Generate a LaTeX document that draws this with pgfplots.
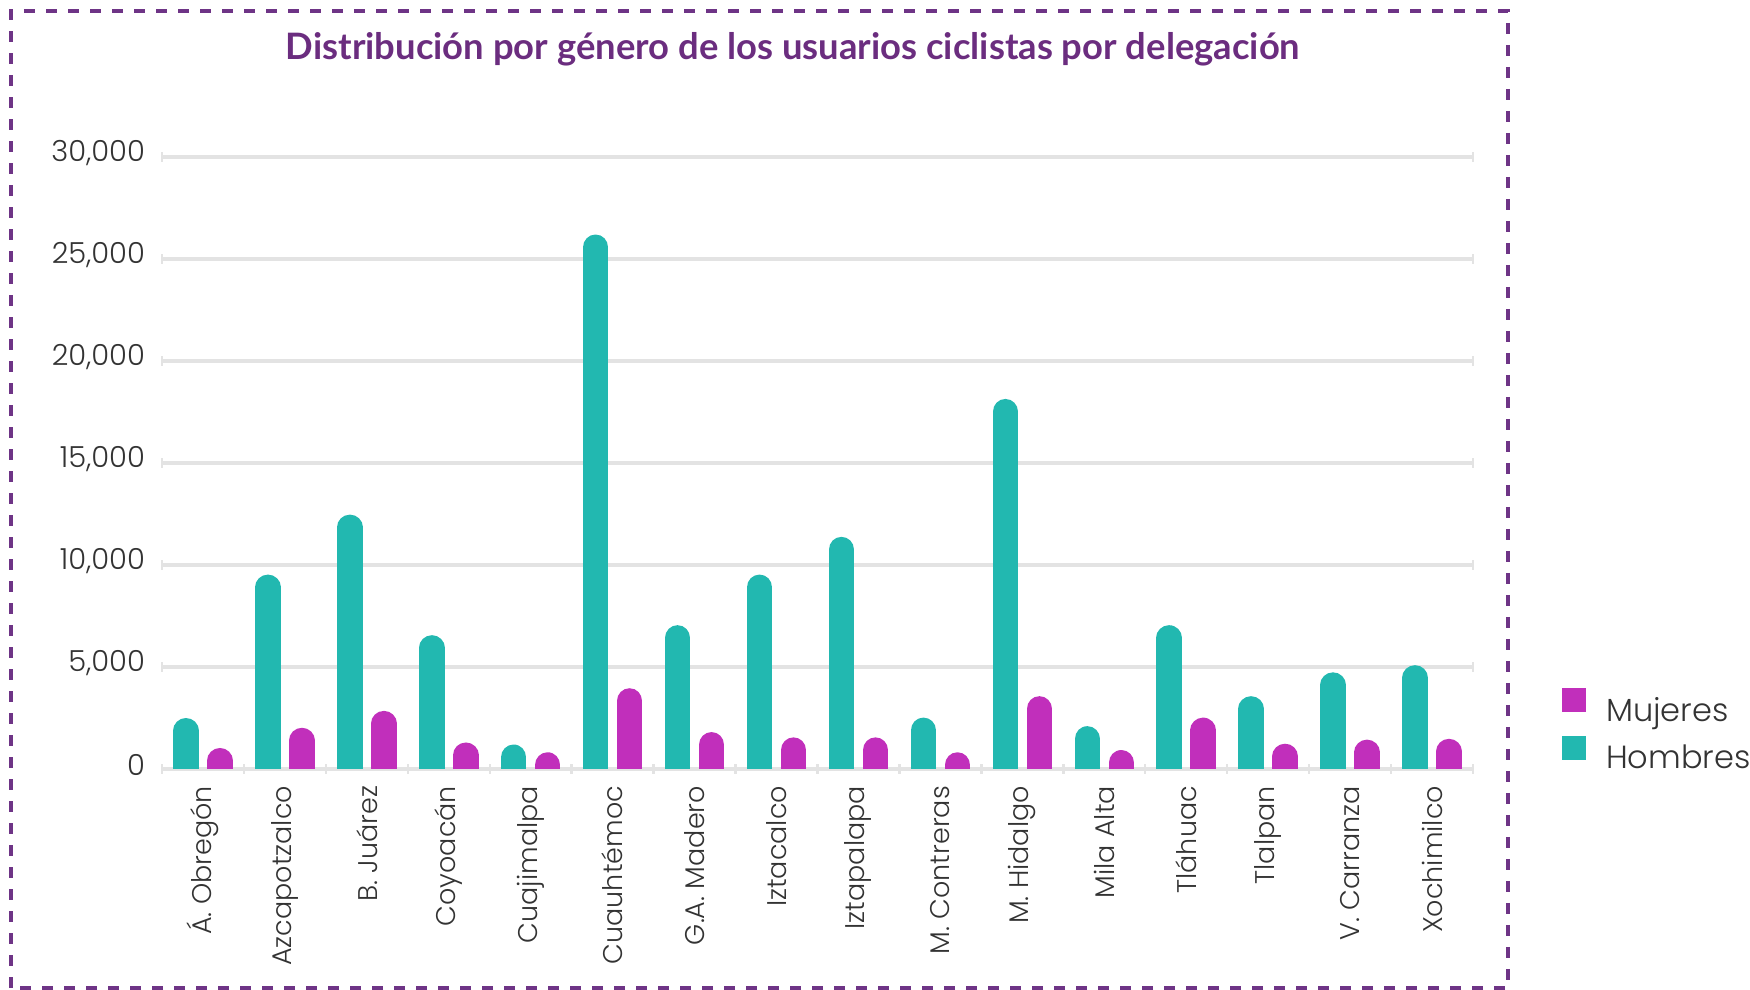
\documentclass[border=0pt]{standalone}
\usepackage{pgfplots}
\pgfplotsset{compat=1.18}
\usepackage{fontspec}
\setmainfont{Poppins}[UprightFont=* Light]
\newfontfamily\titlefont{Lato}
\definecolor{teal1}{HTML}{22B8B0}
\definecolor{mag1}{HTML}{C12FBB}
\definecolor{ttl}{HTML}{6B2D7F}
\definecolor{brd}{HTML}{6E3486}
\definecolor{grd}{HTML}{E3E3E3}
\definecolor{txt}{HTML}{333333}

\begin{document}
\begin{tikzpicture}
\path[use as bounding box] (0,0) rectangle (875pt,495pt);
\draw[brd, line width=1.7pt, dash pattern=on 5.5pt off 5.5pt] (5.5pt,1pt) rectangle (754pt,489.5pt);
\node[font=\titlefont\bfseries\fontsize{18.2}{20}\selectfont, text=ttl] at (396.5pt,470.5pt) {Distribución por género de los usuarios ciclistas por delegación};
\begin{axis}[
  at={(81pt,110.5pt)}, anchor=south west,
  scale only axis, width=655.5pt, height=306pt,
  xmin=-0.5, xmax=15.5, ymin=0, ymax=30000,
  axis line style={draw=none},
  ymajorgrids, grid style={grd, line width=1.7pt},
  ytick={0,5000,10000,15000,20000,25000,30000},
  scaled y ticks=false,
  /pgf/number format/1000 sep={,},
  /pgf/number format/assume math mode=true,
  major tick length=0pt,
  xtick pos=bottom, ytick pos=left,
  tick label style={font=\fontsize{13.5}{16}\selectfont, text=txt},
  yticklabel style={font=\fontsize{14.5}{16}\selectfont, xshift=-5pt, yshift=2pt},
  xtick={0,...,15},
  xticklabels={Á. Obregón, Azcapotzalco, B. Juárez, Coyoacán, Cuajimalpa, Cuauhtémoc, G.A. Madero, Iztacalco, Iztapalapa, M. Contreras, M. Hidalgo, Mila Alta, Tláhuac, Tlalpan, V. Carranza, Xochimilco},
  xticklabel style={yshift=-5pt, rotate=90, anchor=east},
  extra x ticks={-0.5,0.5,...,15.5},
  extra x tick labels={},
  extra x tick style={major tick length=5pt, tick align=center, tick style={grd, line width=1.2pt}},
  legend style={at={(axis description cs:1,0)}, anchor=south west, xshift=44.5pt, yshift=-1.7pt,
    draw=none, fill=none, inner sep=0pt, row sep=6pt,
    font=\fontsize{16}{19}\selectfont, text=txt,
    nodes={inner sep=0pt}},
  legend cell align=left,
  /tikz/every odd column/.append style={column sep=10pt},
]
\addlegendimage{legend image code/.code={\fill[mag1] (0pt,-0.5pt) rectangle (11.5pt,11pt);}}
\addlegendentry{Mujeres}
\addlegendimage{legend image code/.code={\fill[teal1] (0pt,-0.5pt) rectangle (11.5pt,11pt);}}
\addlegendentry{Hombres}
% Hombres
\addplot[forget plot, ycomb, draw=teal1, line width=12.75pt, line cap=round, xshift=-8.5pt, yshift=-6.375pt, mark=none] coordinates {
(0,2500) (1,9530) (2,12470) (3,6560) (4,1200) (5,26200) (6,7050) (7,9530)
(8,11380) (9,2520) (10,18140) (11,2100) (12,7050) (13,3570) (14,4740) (15,5090)};
% Mujeres
\addplot[forget plot, ycomb, draw=mag1, line width=12.75pt, line cap=round, xshift=8.5pt, yshift=-6.375pt, mark=none] coordinates {
(0,1030) (1,2020) (2,2850) (3,1300) (4,820) (5,3960) (6,1810) (7,1550)
(8,1550) (9,820) (10,3570) (11,930) (12,2520) (13,1240) (14,1440) (15,1480)};
\pgfplotsinvokeforeach{0,5000,10000,15000,20000,25000,30000}{
  \coordinate (L#1) at (axis cs:-0.5,#1);
  \coordinate (R#1) at (axis cs:15.5,#1);
}
\end{axis}
\foreach \v in {0,5000,10000,15000,20000,25000,30000}{
  \draw[grd, line width=1.2pt] ([yshift=-2.5pt]L\v) -- ([yshift=2.5pt]L\v);
  \draw[grd, line width=1.2pt] ([yshift=-2.5pt]R\v) -- ([yshift=2.5pt]R\v);
}
\end{tikzpicture}
\end{document}
